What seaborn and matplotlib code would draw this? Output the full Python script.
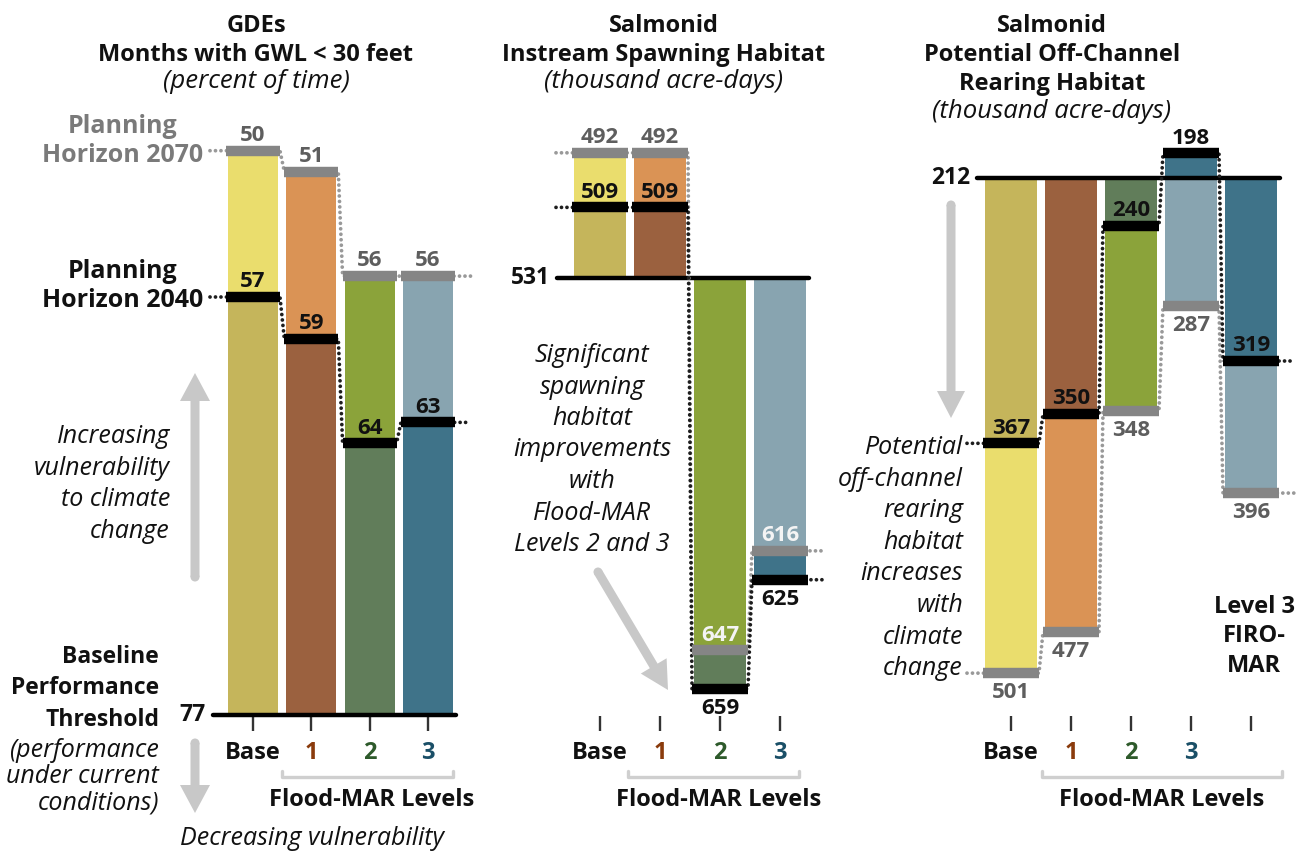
import numpy as np
import pandas as pd
import matplotlib
matplotlib.use("Agg")
import matplotlib.pyplot as plt
import matplotlib.patches as mpatches
import seaborn as sns

sns.set_theme(style="white")
plt.rcParams["font.family"] = ["Open Sans", "DejaVu Sans"]

# ---- data ----
gde_levels = ["Base", "1", "2", "3"]
gde_2040 = [57, 59, 64, 63]
gde_2070 = [50, 51, 56, 56]
gde_threshold = 77

spawn_levels = ["Base", "1", "2", "3"]
spawn_2040 = [509, 509, 659, 625]
spawn_2070 = [492, 492, 647, 616]
spawn_threshold = 531

rear_levels = ["Base", "1", "2", "3", "FIRO"]
rear_2040 = [367, 350, 240, 198, 319]
rear_2070 = [501, 477, 348, 287, 396]
rear_threshold = 212

tick_names = {"Base": "Base", "1": "1", "2": "2", "3": "3", "FIRO": ""}

# ---- styling ----
DARK = {"Base": "#c5b55b", "1": "#9b613f", "2": "#617d5a", "3": "#3f7389", "FIRO": "#3f7389"}
LIGHT = {"Base": "#eadd6d", "1": "#da9355", "2": "#8ba33a", "3": "#88a4b0", "FIRO": "#88a4b0"}
TICK_COLORS = {"Base": "#111111", "1": "#8a3b0c", "2": "#2e5a2b", "3": "#1a4f67", "FIRO": "#111111"}
GRAY_TXT = "#5e5e5e"
ARROW = "#c8c8c8"
NUM_FS = 16
TXT_FS = 18
ITAL_FS = 18

W, H = 1306, 858
fig = plt.figure(figsize=(W / 100, H / 100), dpi=100)

# overlay in pixel coordinates for free text, arrows and brackets
over = fig.add_axes([0, 0, 1, 1])
over.set_xlim(0, W)
over.set_ylim(H, 0)
over.axis("off")


def put(x, y, s, **kw):
    kw.setdefault("fontsize", TXT_FS)
    kw.setdefault("color", "#111111")
    return over.text(x, y, s, va="baseline", **kw)


def stack(x, y0, dy, lines, **kw):
    for i, line in enumerate(lines):
        put(x, y0 + i * dy, line, **kw)


def arrow(x0, y0, x1, y1, head_w=30, head_l=28):
    over.add_patch(mpatches.FancyArrow(x0, y0, x1 - x0, y1 - y0, width=9,
                                       head_width=head_w, head_length=head_l,
                                       length_includes_head=True, color=ARROW, lw=0))
    over.add_patch(mpatches.Circle((x0, y0), 4.5, color=ARROW, lw=0))


def bracket(x0, x1, y=777):
    over.plot([x0, x0, x1, x1], [y - 6, y, y, y - 6], color="#cfcfcf", lw=2.4,
              solid_joinstyle="round", solid_capstyle="round")


def draw_panel(levels, v40, v70, thr, c0, dx, bw, yb, s, span, base_ext,
               above40, above70, white70=()):
    x_left, x_right = span
    ax = fig.add_axes([x_left / W, 0, (x_right - x_left) / W, 1])
    ax.patch.set_alpha(0)
    n = len(levels)
    d40 = np.array(v40, float) - thr
    d70 = np.array(v70, float) - thr
    first40 = np.abs(d40) >= np.abs(d70)
    df = pd.DataFrame({"pos": np.arange(n), "level": levels,
                       "first": np.where(first40, d40, d70),
                       "second": np.where(first40, d70, d40)})
    pal1 = {lv: (DARK[lv] if f else LIGHT[lv]) for lv, f in zip(levels, first40)}
    pal2 = {lv: (LIGHT[lv] if f else DARK[lv]) for lv, f in zip(levels, first40)}
    for col, pal in (("first", pal1), ("second", pal2)):
        sns.barplot(data=df, x="pos", y=col, hue="level", palette=pal,
                    native_scale=True, width=bw / dx, saturation=1,
                    errorbar=None, legend=False, linewidth=0, ax=ax)

    X = lambda px: (px - c0) / dx
    Y = lambda py: (py - yb) / s
    ax.set_xlim(X(x_left), X(x_right))
    ax.set_ylim(Y(H), Y(0))
    ax.axis("off")

    # threshold line
    bl = -(bw / 2 + base_ext) / dx
    ax.plot([bl, n - 1 + (bw / 2 + 3) / dx], [0, 0], color="black", lw=3.2,
            solid_capstyle="round", zorder=6)
    ax.text(bl - 7 / dx, 0, str(thr), ha="right", va="center", fontsize=NUM_FS + 0.5,
            fontweight="bold", color="#111111")

    # horizon markers + dotted connectors
    hw = (bw / 2 + 2) / dx
    stub = 16 / dx
    series = [(d70, v70, "#858585", "#999999", above70, GRAY_TXT),
              (d40, v40, "black", "#1e1e1e", above40, "#111111")]
    for d, vals, mcol, dcol, above, tcol in series:
        xs = [-hw - stub]
        ys = [d[0]]
        for k in range(n):
            xs += [k - hw, k + hw]
            ys += [d[k], d[k]]
        xs.append(n - 1 + hw + stub)
        ys.append(d[-1])
        ax.plot(xs, ys, color=dcol, lw=2.7, linestyle=(0, (0.01, 1.45)),
                dash_capstyle="round", zorder=7)
        for k in range(n):
            ax.plot([k - hw, k + hw], [d[k], d[k]], color=mcol, lw=7.5,
                    solid_capstyle="butt", zorder=8)
            col = tcol
            if mcol != "black" and k in white70:
                col = "#f4f4f4"
            off = 7 if above[k] else -18
            ax.annotate(str(vals[k]), (k, d[k]), xytext=(0, off),
                        textcoords="offset points", ha="center", va="baseline",
                        fontsize=NUM_FS, fontweight="bold", color=col, zorder=9)

    # category ticks
    for k, lv in enumerate(levels):
        ax.plot([k, k], [Y(716), Y(731)], color="#333333", lw=1.7,
                solid_capstyle="butt")
        ax.text(k, Y(759), tick_names[lv], ha="center", va="baseline",
                fontsize=17, fontweight="bold", color=TICK_COLORS[lv])
    return ax


# ---- panel 1: GDEs ----
draw_panel(gde_levels, gde_2040, gde_2070, gde_threshold,
           c0=253, dx=58.3, bw=50, yb=715, s=20.9, span=(150, 475), base_ext=15,
           above40=[True] * 4, above70=[True] * 4)

# ---- panel 2: spawning habitat ----
draw_panel(spawn_levels, spawn_2040, spawn_2070, spawn_threshold,
           c0=600, dx=60, bw=52, yb=278, s=3.21, span=(480, 885), base_ext=17,
           above40=[True, True, False, False], above70=[True] * 4, white70=(2, 3))

# ---- panel 3: rearing habitat ----
draw_panel(rear_levels, rear_2040, rear_2070, rear_threshold,
           c0=1011, dx=60, bw=52, yb=177.5, s=1.715, span=(890, 1306), base_ext=8,
           above40=[True] * 5, above70=[False] * 5)

# ---- titles ----
for cx, lines in ((256, ["GDEs", "Months with GWL < 30 feet"]),
                  (664, ["Salmonid", "Instream Spawning Habitat"]),
                  (1052, ["Salmonid", "Potential Off-Channel", "Rearing Habitat"])):
    stack(cx, 32, 29, lines, ha="center", fontsize=17, fontweight="bold")
put(256, 88, "(percent of time)", ha="center", fontsize=18.5, style="italic")
put(664, 88, "(thousand acre-days)", ha="center", fontsize=18.5, style="italic")
put(1052, 118, "(thousand acre-days)", ha="center", fontsize=18.5, style="italic")

# ---- panel 1 annotations ----
renderer = fig.canvas.get_renderer()
for y0, col in ((133, "#7a7a7a"), (278, "#111111")):
    label = "Horizon 2070" if y0 == 133 else "Horizon 2040"
    t = put(203, y0 + 29, label, ha="right", fontweight="bold", color=col, fontsize=18)
    bb = t.get_window_extent(renderer)
    put(203 - bb.width / 2, y0, "Planning", ha="center", fontweight="bold", color=col,
        fontsize=18)
stack(159, 663, 31.5, ["Baseline", "Performance", "Threshold"], ha="right",
      fontweight="bold", fontsize=16.5)
stack(159, 757, 26, ["(performance", "under current", "conditions)"], ha="right",
      style="italic", fontsize=ITAL_FS)
stack(170, 443, 31.7, ["Increasing", "vulnerability", "to climate", "change"], ha="right",
      style="italic", fontsize=ITAL_FS)
put(312, 845, "Decreasing vulnerability", ha="center", style="italic", fontsize=ITAL_FS)
arrow(195, 577, 195, 373)
arrow(195, 743, 195, 813)

# ---- panel 2 annotations ----
stack(592, 362, 31.5, ["Significant", "spawning", "habitat", "improvements", "with",
                       "Flood-MAR", "Levels 2 and 3"], ha="center", style="italic",
      fontsize=ITAL_FS)
arrow(598, 572, 668, 690)

# ---- panel 3 annotations ----
stack(963, 454, 31.6, ["Potential", "off-channel", "rearing", "habitat", "increases",
                       "with", "climate", "change"], ha="right", style="italic",
      fontsize=ITAL_FS)
arrow(951, 205, 951, 418, head_w=28, head_l=27)
stack(1254, 613, 29.5, ["Level 3", "FIRO-", "MAR"], ha="center", fontweight="bold",
      fontsize=17)

# ---- Flood-MAR brackets ----
for x0, x1, cx in ((282, 453, 372), (628, 799, 719), (1042, 1282, 1162)):
    bracket(x0, x1)
    put(cx, 806, "Flood-MAR Levels", ha="center", fontsize=17, fontweight="bold")

fig.savefig("out.png", dpi=100)
